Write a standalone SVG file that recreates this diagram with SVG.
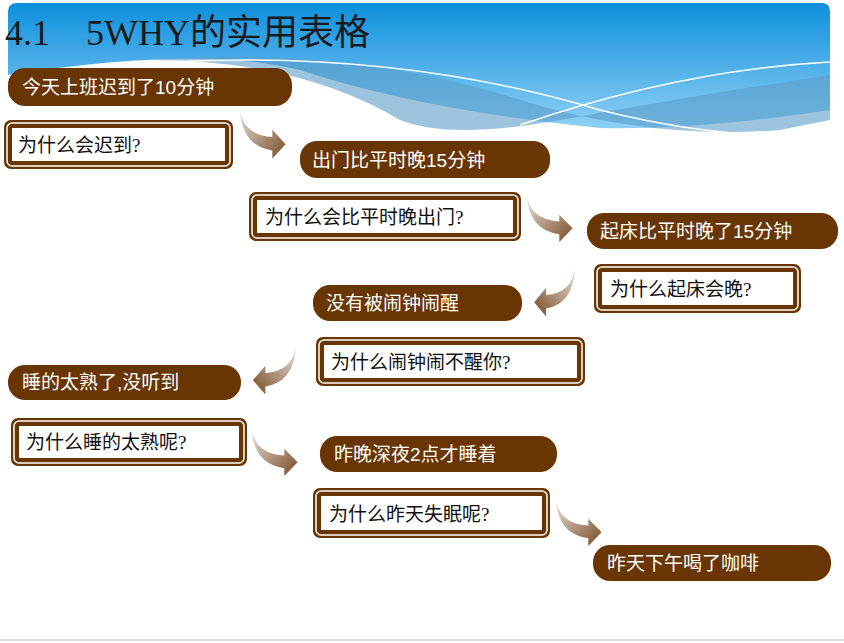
<svg xmlns="http://www.w3.org/2000/svg" width="844" height="643" viewBox="0 0 844 643">
<style>
.pill{fill:#683503}
.pt{fill:#fff;font-family:"Liberation Sans","Noto Sans CJK SC",sans-serif;font-size:19px}
.qo{fill:#683503}
.qm{fill:none;stroke:#fff;stroke-width:1.5}
.qi{fill:#fff}
.qt{fill:#111;font-family:"Liberation Serif","Noto Sans CJK SC",serif;font-size:19px}
.arr{fill:url(#ag)}
</style>
<defs>
<linearGradient id="sky" x1="0" y1="0" x2="0" y2="1">
<stop offset="0" stop-color="#0d8fdc"/><stop offset="1" stop-color="#8fd0f5"/>
</linearGradient>
<linearGradient id="ag" x1="0" y1="0" x2="1" y2="1">
<stop offset="0" stop-color="#e6e2de"/><stop offset="1" stop-color="#7a4a22"/>
</linearGradient>
<path id="arrow" d="M0,0 Q4,28 34,30 L34,22 L48,38 L34,54 L34,45 Q2,40 0,0 Z"/>
</defs>
<rect width="844" height="643" fill="#fff"/>
<g id="header">
<path d="M8,12 Q8,3 17,3 L822,3 Q830,3 830,12 L830,110 Q700,130 600,128 Q420,110 300,70 Q200,45 8,75 Z" fill="url(#sky)"/>
<path d="M150,60 Q350,45 520,100 Q650,140 780,130 L830,120 L830,75 Q700,95 560,120 Q450,140 400,120 Q300,60 150,60 Z" fill="#5a9cc8" opacity="0.6"/>
<path d="M170,62 Q400,50 600,110 Q700,135 780,135" fill="none" stroke="#fff" stroke-width="1.5"/>
<path d="M520,125 Q680,70 830,62" fill="none" stroke="#fff" stroke-width="1.5"/>
<text x="5" y="45" font-family="Liberation Serif, Noto Sans CJK SC, serif" font-size="36" fill="#1a1a1a">4.1　5WHY的实用表格</text>
</g>
<g id="connectors">
<use href="#arrow" class="arr" transform="translate(240,110) scale(0.95,0.9)"/>
<use href="#arrow" class="arr" transform="translate(527,196) scale(0.95,0.85)"/>
<use href="#arrow" class="arr" transform="translate(575,268) scale(-0.85,0.9)"/>
<use href="#arrow" class="arr" transform="translate(296,346) scale(-0.9,0.9)"/>
<use href="#arrow" class="arr" transform="translate(252,430) scale(0.95,0.85)"/>
<use href="#arrow" class="arr" transform="translate(556,500) scale(0.95,0.85)"/>
</g>
<g id="n1"><rect class="pill" x="8" y="68" width="284" height="38" rx="17"/><text class="pt" x="22" y="94">今天上班迟到了10分钟</text></g>
<g id="q1"><rect class="qo" x="4" y="120" width="229" height="49" rx="7"/><rect class="qm" x="7" y="123" width="223" height="43" rx="5"/><rect class="qi" x="12" y="128" width="213" height="33"/><text class="qt" x="18" y="152">为什么会迟到?</text></g>
<g id="n2"><rect class="pill" x="300" y="141" width="250" height="37" rx="17"/><text class="pt" x="312" y="167">出门比平时晚15分钟</text></g>
<g id="q2"><rect class="qo" x="249" y="192" width="272" height="49" rx="7"/><rect class="qm" x="252" y="195" width="266" height="43" rx="5"/><rect class="qi" x="257" y="200" width="256" height="33"/><text class="qt" x="265" y="224">为什么会比平时晚出门?</text></g>
<g id="n3"><rect class="pill" x="587" y="213" width="251" height="36" rx="17"/><text class="pt" x="600" y="238">起床比平时晚了15分钟</text></g>
<g id="q3"><rect class="qo" x="594" y="264" width="207" height="49" rx="7"/><rect class="qm" x="597" y="267" width="201" height="43" rx="5"/><rect class="qi" x="602" y="272" width="191" height="33"/><text class="qt" x="610" y="296">为什么起床会晚?</text></g>
<g id="n4"><rect class="pill" x="313" y="285" width="209" height="36" rx="17"/><text class="pt" x="326" y="310">没有被闹钟闹醒</text></g>
<g id="q4"><rect class="qo" x="316" y="337" width="269" height="49" rx="7"/><rect class="qm" x="319" y="340" width="263" height="43" rx="5"/><rect class="qi" x="324" y="345" width="253" height="33"/><text class="qt" x="331" y="369">为什么闹钟闹不醒你?</text></g>
<g id="n5"><rect class="pill" x="8" y="365" width="233" height="35" rx="17"/><text class="pt" x="22" y="389">睡的太熟了,没听到</text></g>
<g id="q5"><rect class="qo" x="11" y="418" width="236" height="48" rx="7"/><rect class="qm" x="14" y="421" width="230" height="42" rx="5"/><rect class="qi" x="19" y="426" width="220" height="32"/><text class="qt" x="26" y="449">为什么睡的太熟呢?</text></g>
<g id="n6"><rect class="pill" x="320" y="436" width="237" height="36" rx="17"/><text class="pt" x="334" y="461">昨晚深夜2点才睡着</text></g>
<g id="q6"><rect class="qo" x="313" y="488" width="237" height="50" rx="7"/><rect class="qm" x="316" y="491" width="231" height="44" rx="5"/><rect class="qi" x="321" y="496" width="221" height="34"/><text class="qt" x="329" y="521">为什么昨天失眠呢?</text></g>
<g id="n7"><rect class="pill" x="593" y="545" width="238" height="36" rx="17"/><text class="pt" x="607" y="570">昨天下午喝了咖啡</text></g>
<line x1="0" y1="640" x2="844" y2="640" stroke="#bbb" stroke-width="1"/>
</svg>
